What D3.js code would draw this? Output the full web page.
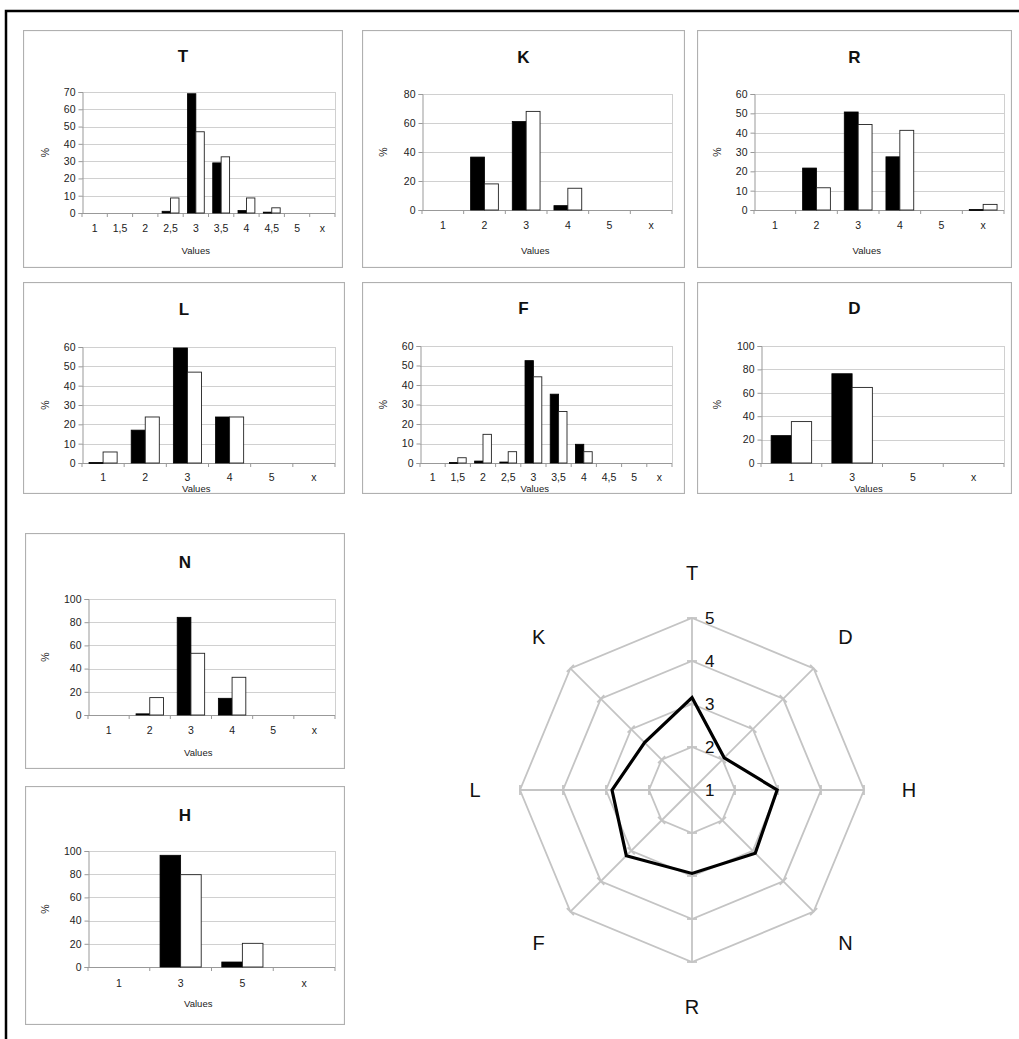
<!DOCTYPE html>
<html>
<head>
<meta charset="utf-8">
<script src="https://cdn.jsdelivr.net/npm/d3@7"></script>
<style>
  html, body { margin: 0; padding: 0; background: #fff; }
  svg { display: block; font-family: "Liberation Sans", Arial, sans-serif; }
</style>
</head>
<body>
<svg id="chart" width="1019" height="1039"></svg>
<script>
// Category sets used by the histograms
const halfCats  = ["1", "1,5", "2", "2,5", "3", "3,5", "4", "4,5", "5", "x"];
const wholeCats = ["1", "2", "3", "4", "5", "x"];
const oddCats   = ["1", "3", "5", "x"];

// Percentages per value (black = first group, white = second group)
const tBlack = [0, 0, 0, 1, 69, 29, 1.4, 0.5, 0, 0];
const tWhite = [0, 0, 0, 8.7, 47, 32.5, 8.7, 3, 0, 0];
const kBlack = [0, 36.5, 61, 3, 0, 0];
const kWhite = [0, 18, 68, 15, 0, 0];
const rBlack = [0, 21.7, 50.7, 27.5, 0, 0.3];
const rWhite = [0, 11.5, 44.2, 41.2, 0, 2.9];
const lBlack = [0.3, 17, 59.5, 23.8, 0, 0];
const lWhite = [5.7, 23.8, 47, 23.8, 0, 0];
const fBlack = [0, 0.3, 1, 0.5, 52.5, 35.3, 9.6, 0, 0, 0];
const fWhite = [0, 2.7, 14.7, 5.8, 44.2, 26.4, 5.8, 0, 0, 0];
const dBlack = [23.4, 76.3, 0, 0];
const dWhite = [35.4, 64.6, 0, 0];
const nBlack = [0, 1, 84.2, 14.4, 0, 0];
const nWhite = [0, 15, 53.2, 32.5, 0, 0];
const hBlack = [0, 96.3, 4.3, 0];
const hWhite = [0, 79.6, 20.4, 0];

// Y axis tick values
const ticks70  = [0, 10, 20, 30, 40, 50, 60, 70];
const ticks80  = [0, 20, 40, 60, 80];
const ticks60  = [0, 10, 20, 30, 40, 50, 60];
const ticks100 = [0, 20, 40, 60, 80, 100];

// Radar: mean score per dimension, clockwise from the top
const radarAxes   = ["T", "D", "H", "N", "R", "F", "L", "K"];
const radarValues = [3.15, 2.06, 2.98, 3.08, 2.94, 3.16, 2.86, 2.56];
const radarLevels = [1, 2, 3, 4, 5];

const svg = d3.select("#chart");

// Outer frame (open at right and bottom)
svg.append("path")
  .attr("d", "M6,1039 L6,11 L1019,11")
  .attr("fill", "none").attr("stroke", "#000").attr("stroke-width", 2.5);

// Panel layout: frame box, plot box, text rows
const panels = [
  { title: "T", cats: halfCats,  black: tBlack, white: tWhite, ticks: ticks70,
    frame: [23, 30, 343, 268],  plot: [82, 92, 335, 213],  titleY: 56,  labY: 228, valY: 250, pctX: 45 },
  { title: "K", cats: wholeCats, black: kBlack, white: kWhite, ticks: ticks80,
    frame: [362, 30, 685, 268], plot: [422, 94, 672, 210], titleY: 57,  labY: 225, valY: 250, pctX: 383 },
  { title: "R", cats: wholeCats, black: rBlack, white: rWhite, ticks: ticks60,
    frame: [697, 30, 1012, 268], plot: [754, 94, 1004, 210], titleY: 57, labY: 225, valY: 250, pctX: 717 },
  { title: "L", cats: wholeCats, black: lBlack, white: lWhite, ticks: ticks60,
    frame: [23, 282, 345, 494], plot: [82, 347, 335, 463], titleY: 309, labY: 477, valY: 488, pctX: 45 },
  { title: "F", cats: halfCats,  black: fBlack, white: fWhite, ticks: ticks60,
    frame: [362, 282, 685, 494], plot: [420, 346, 672, 463], titleY: 308, labY: 477, valY: 488, pctX: 383 },
  { title: "D", cats: oddCats,   black: dBlack, white: dWhite, ticks: ticks100,
    frame: [697, 282, 1012, 494], plot: [761, 346, 1004, 463], titleY: 308, labY: 477, valY: 488, pctX: 717 },
  { title: "N", cats: wholeCats, black: nBlack, white: nWhite, ticks: ticks100,
    frame: [25, 533, 345, 769], plot: [88, 599, 335, 715], titleY: 562, labY: 730, valY: 752, pctX: 45 },
  { title: "H", cats: oddCats,   black: hBlack, white: hWhite, ticks: ticks100,
    frame: [25, 786, 345, 1025], plot: [88, 851, 335, 967], titleY: 815, labY: 983, valY: 1003, pctX: 45 }
];

const defs = svg.append("defs");

panels.forEach((p, i) => {
  const [fx0, fy0, fx1, fy1] = p.frame;
  const [px0, py0, px1, py1] = p.plot;

  defs.append("clipPath").attr("id", "clip" + i)
    .append("rect").attr("x", fx0).attr("y", fy0).attr("width", fx1 - fx0).attr("height", fy1 - fy0);

  const g = svg.append("g").attr("clip-path", `url(#clip${i})`);

  g.append("rect")
    .attr("x", fx0).attr("y", fy0).attr("width", fx1 - fx0).attr("height", fy1 - fy0)
    .attr("fill", "#fff").attr("stroke", "#b0b0b0").attr("stroke-width", 2.2);

  const x = d3.scaleBand().domain(p.cats).range([px0, px1]).paddingInner(0).paddingOuter(0);
  const y = d3.scaleLinear().domain([0, d3.max(p.ticks)]).range([py1, py0]);
  const sub = d3.scaleBand().domain(["black", "white"]).range([0, x.bandwidth()])
    .paddingInner(0).paddingOuter(0.5);

  // gridlines
  g.append("g").selectAll("line").data(p.ticks.filter(t => t > 0)).join("line")
    .attr("x1", px0).attr("x2", px1)
    .attr("y1", d => Math.round(y(d)) + 0.5).attr("y2", d => Math.round(y(d)) + 0.5)
    .attr("stroke", "#d0d0d0").attr("stroke-width", 1);
  // right border of plot area
  g.append("line").attr("x1", px1 + 0.5).attr("x2", px1 + 0.5).attr("y1", py0).attr("y2", py1)
    .attr("stroke", "#d0d0d0");

  // y axis
  const yAxis = d3.axisLeft(y).tickValues(p.ticks).tickSize(4).tickPadding(3);
  const ya = g.append("g").attr("transform", `translate(${px0 + 0.5},0)`).call(yAxis);
  ya.select(".domain").attr("stroke", "#999");
  ya.selectAll(".tick line").attr("stroke", "#999");
  ya.selectAll("text").attr("font-size", 10.5).attr("fill", "#222")
    .attr("font-family", "Liberation Sans, Arial, sans-serif");

  // x axis: tick marks between categories
  g.append("line").attr("x1", px0).attr("x2", px1)
    .attr("y1", Math.round(py1) + 0.5).attr("y2", Math.round(py1) + 0.5).attr("stroke", "#999");
  const bounds = p.cats.map(c => x(c)).concat([px1]);
  g.append("g").selectAll("line").data(bounds).join("line")
    .attr("x1", d => d).attr("x2", d => d)
    .attr("y1", py1).attr("y2", py1 + 4).attr("stroke", "#999");
  g.append("g").selectAll("text").data(p.cats).join("text")
    .attr("x", d => x(d) + x.bandwidth() / 2).attr("y", p.labY)
    .attr("text-anchor", "middle").attr("dominant-baseline", "central")
    .attr("font-size", 10.5).attr("fill", "#222").text(d => d);

  // bars
  const rows = p.cats.map((c, k) => ({ c, black: p.black[k], white: p.white[k] }));
  g.append("g").selectAll("rect").data(rows.filter(d => d.black > 0)).join("rect")
    .attr("x", d => x(d.c) + sub("black")).attr("width", sub.bandwidth())
    .attr("y", d => y(d.black)).attr("height", d => Math.max(1, y(0) - y(d.black)))
    .attr("fill", "#000").attr("stroke", "#000").attr("stroke-width", 0.8);
  g.append("g").selectAll("rect").data(rows.filter(d => d.white > 0)).join("rect")
    .attr("x", d => x(d.c) + sub("white")).attr("width", sub.bandwidth())
    .attr("y", d => y(d.white)).attr("height", d => Math.max(1, y(0) - y(d.white)))
    .attr("fill", "#fff").attr("stroke", "#222").attr("stroke-width", 0.9);

  // titles
  g.append("text").attr("x", (fx0 + fx1) / 2).attr("y", p.titleY)
    .attr("text-anchor", "middle").attr("dominant-baseline", "central")
    .attr("font-size", 17).attr("font-weight", "bold").attr("fill", "#111").text(p.title);
  g.append("text").attr("x", ((fx0 + fx1) / 2 + (px0 + px1) / 2) / 2).attr("y", p.valY)
    .attr("text-anchor", "middle").attr("dominant-baseline", "central")
    .attr("font-size", 9.5).attr("fill", "#222").text("Values");
  g.append("text")
    .attr("transform", `translate(${p.pctX},${(py0 + py1) / 2}) rotate(-90)`)
    .attr("text-anchor", "middle").attr("dominant-baseline", "central")
    .attr("font-size", 10.5).attr("fill", "#222").text("%");
});

// ---- Radar chart ----
const cx = 692, cy = 790;
const r = d3.scaleLinear().domain([1, 5]).range([0, 172]);
const angle = d3.scalePoint().domain(radarAxes).range([0, 2 * Math.PI * (radarAxes.length - 1) / radarAxes.length]);
const pt = (a, v) => [cx + r(v) * Math.sin(angle(a)), cy - r(v) * Math.cos(angle(a))];

const radar = svg.append("g");
const gridColor = "#c4c4c4";

// rings
radar.append("g").selectAll("path").data(radarLevels.filter(l => l > 1)).join("path")
  .attr("d", l => d3.line()(radarAxes.map(a => pt(a, l))) + "Z")
  .attr("fill", "none").attr("stroke", gridColor).attr("stroke-width", 1.8);
// spokes
radar.append("g").selectAll("line").data(radarAxes).join("line")
  .attr("x1", cx).attr("y1", cy)
  .attr("x2", a => pt(a, 5)[0]).attr("y2", a => pt(a, 5)[1])
  .attr("stroke", gridColor).attr("stroke-width", 1.8);
// tick marks across each spoke at every level
const tickPairs = [];
radarAxes.forEach(a => radarLevels.filter(l => l > 1).forEach(l => tickPairs.push({ a, l })));
radar.append("g").selectAll("line").data(tickPairs).join("line")
  .attr("x1", d => pt(d.a, d.l)[0] - 5 * Math.cos(angle(d.a)))
  .attr("y1", d => pt(d.a, d.l)[1] - 5 * Math.sin(angle(d.a)))
  .attr("x2", d => pt(d.a, d.l)[0] + 5 * Math.cos(angle(d.a)))
  .attr("y2", d => pt(d.a, d.l)[1] + 5 * Math.sin(angle(d.a)))
  .attr("stroke", gridColor).attr("stroke-width", 1.8);

// data polygon
radar.append("path")
  .attr("d", d3.line()(radarAxes.map((a, k) => pt(a, radarValues[k]))) + "Z")
  .attr("fill", "none").attr("stroke", "#000").attr("stroke-width", 3.2).attr("stroke-linejoin", "miter");

// level labels along the top spoke
radar.append("g").selectAll("text").data(radarLevels).join("text")
  .attr("x", cx + 13).attr("y", l => cy - r(l))
  .attr("dominant-baseline", "central")
  .attr("font-size", 17).attr("fill", "#111").text(l => l);

// axis labels
radar.append("g").selectAll("text").data(radarAxes).join("text")
  .attr("x", a => cx + 217 * Math.sin(angle(a)))
  .attr("y", a => cy - 217 * Math.cos(angle(a)))
  .attr("text-anchor", "middle").attr("dominant-baseline", "central")
  .attr("font-size", 20).attr("fill", "#111").text(a => a);
</script>
</body>
</html>
